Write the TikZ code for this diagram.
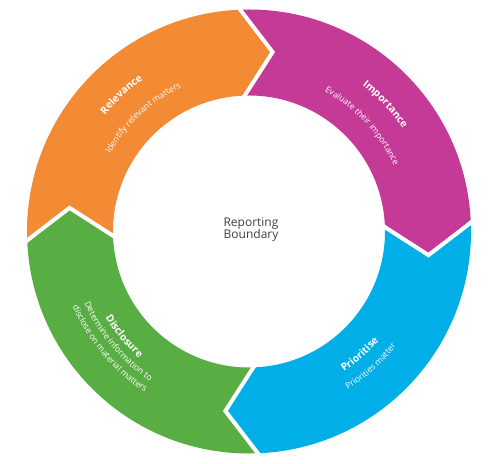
\documentclass[tikz,border=0pt]{standalone}
\usepackage{fontspec}
\setmainfont{Open Sans}
\usetikzlibrary{decorations.text}
\definecolor{cOrange}{HTML}{F38A34}
\definecolor{cMagenta}{HTML}{C43A96}
\definecolor{cCyan}{HTML}{00AEE8}
\definecolor{cGreen}{HTML}{58AE42}
\definecolor{cText}{HTML}{3E3F48}
\newcommand\segtitle{\fontsize{10.2}{12}\selectfont\bfseries\color{white}}
\newcommand\segsub{\fontsize{8.6}{10}\selectfont\color{white}}
\tikzset{
  gap/.style={draw=white, line width=4pt, line join=miter},
  curvetext/.style={decorate, decoration={text along path, text align=center, text={#1}}},
}
\begin{document}
\begin{tikzpicture}[x=1pt,y=1pt]
\useasboundingbox (-249,-231.5) rectangle (254,231.5);
\def\Ro{222}\def\Ri{136}\def\Rm{181}\def\dA{10.5}
% segments: start angle a (notch), end angle b = a-90 (tip)
\foreach \a/\col in {183/cOrange, 93/cMagenta, 3/cCyan, -87/cGreen}{
  \pgfmathsetmacro\b{\a-90}
  \pgfmathsetmacro\bt{\b-\dA}
  \pgfmathsetmacro\at{\a-\dA}
  \fill[\col] (\a:\Ro) arc[start angle=\a, end angle=\b, radius=\Ro]
     -- (\bt:\Rm) -- (\b:\Ri) arc[start angle=\b, end angle=\a, radius=\Ri]
     -- (\at:\Rm) -- cycle;
}
% white gaps
\foreach \a in {183, 93, 3, -87}{
  \pgfmathsetmacro\at{\a-\dA}
  \draw[gap] (\a:\Ro+4) -- (\at:\Rm) -- (\a:\Ri-4);
}
% centre text
\node[align=center, text=cText, font=\fontsize{12}{12.5}\selectfont] (centre) at (2,2) {Reporting\\Boundary};
% Relevance
\path[curvetext={|\segtitle|Relevance}] (173:185) arc[start angle=173, end angle=93, radius=185];
\path[curvetext={|\segsub|Identify relevant matters}] (173:159) arc[start angle=173, end angle=93, radius=159];
% Importance
\path[curvetext={|\segtitle|Importance}] (83:185) arc[start angle=83, end angle=3, radius=185];
\path[curvetext={|\segsub|Evaluate their importance}] (83:159) arc[start angle=83, end angle=3, radius=159];
% Prioritise
\path[curvetext={|\segtitle|Prioritise}] (-88:169.5) arc[start angle=-88, end angle=-8, radius=169.5];
\path[curvetext={|\segsub|Priorities matter}] (-88:186.5) arc[start angle=-88, end angle=-8, radius=186.5];
% Disclosure
\path[curvetext={|\segtitle|Disclosure}] (-180:167.5) arc[start angle=-180, end angle=-100, radius=167.5];
\path[curvetext={|\segsub|Determine information to}] (-180:179.5) arc[start angle=-180, end angle=-100, radius=179.5];
\path[curvetext={|\segsub|disclose on material matters}] (-180:191.5) arc[start angle=-180, end angle=-100, radius=191.5];
\end{tikzpicture}
\end{document}
